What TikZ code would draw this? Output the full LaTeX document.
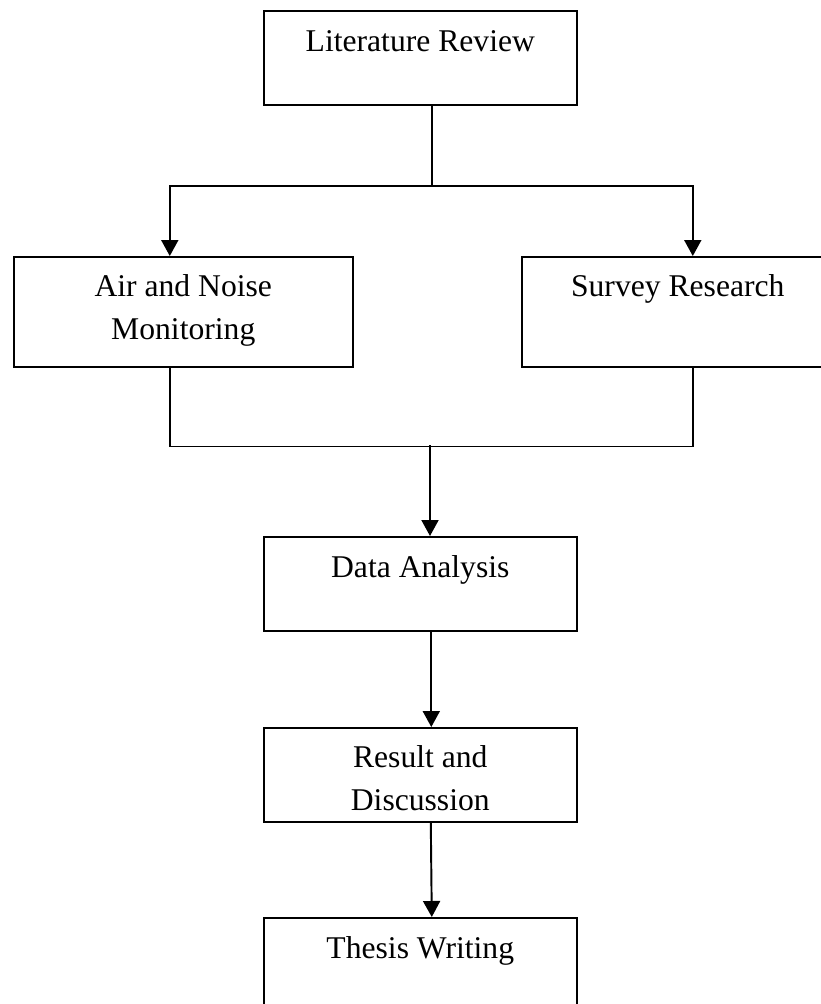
\documentclass[tikz,border=0pt]{standalone}
\usepackage{fontspec}
\setmainfont{Liberation Serif}
\usepackage{tikz}
\usetikzlibrary{arrows.meta,positioning,calc}
\tikzset{
  stagebox/.style={draw=black,line width=0.9pt,anchor=north west,
                   align=center,inner xsep=2pt,inner ysep=0pt,
                   font=\fontsize{18}{24.5}\selectfont},
  oneline/.style={text height=0.82cm,text depth=1.06cm},
  flowline/.style={line width=0.95pt,black},
  flowarrow/.style={-{Triangle[length=0.32cm,width=0.34cm]},line width=1.1pt,black},
}
\begin{document}
\begin{tikzpicture}
  \useasboundingbox (0,0) rectangle (16.42,-20.08);
  % stages
  \node[stagebox,oneline,minimum width=6.26cm](lit)at(5.26,-0.20){Literature Review};
  \node[stagebox,minimum width=6.78cm,text height=1.66cm,text depth=0.54cm]
    (air)at(0.26,-5.12){Air and Noise\\Monitoring};
  \node[stagebox,minimum width=6.24cm,text height=0.80cm,text depth=1.40cm]
    (survey)at(10.42,-5.12){Survey Research};
  \node[stagebox,oneline,minimum width=6.26cm](data)at(5.26,-10.72){Data Analysis};
  \node[stagebox,minimum width=6.26cm,text height=1.66cm,text depth=0.22cm]
    (result)at(5.26,-14.54){Result and\\Discussion};
  \node[stagebox,oneline,minimum width=6.26cm](thesis)at(5.26,-18.34){Thesis Writing};

  % split into the two branches
  \draw[flowline]([xshift=0.23cm]lit.south) -- ++(0,-1.60) coordinate(split);
  \draw[flowarrow](split) -| ([xshift=-0.27cm]air.north);
  \draw[flowarrow](split) -| ([xshift=0.30cm]survey.north);

  % merge of the branches
  \draw[flowline]([xshift=-0.27cm]air.south) -- ++(0,-1.58)
    -| ([xshift=0.30cm]survey.south);
  \coordinate(merge)at(8.60,-8.90);
  \draw[flowarrow](merge) -- (merge |- data.north);

  % lower chain
  \draw[flowarrow]([xshift=0.22cm]data.south) -- ([xshift=0.22cm]result.north);
  \draw[flowarrow]([xshift=0.21cm]result.south) -- ([xshift=0.23cm]thesis.north);
\end{tikzpicture}
\end{document}
